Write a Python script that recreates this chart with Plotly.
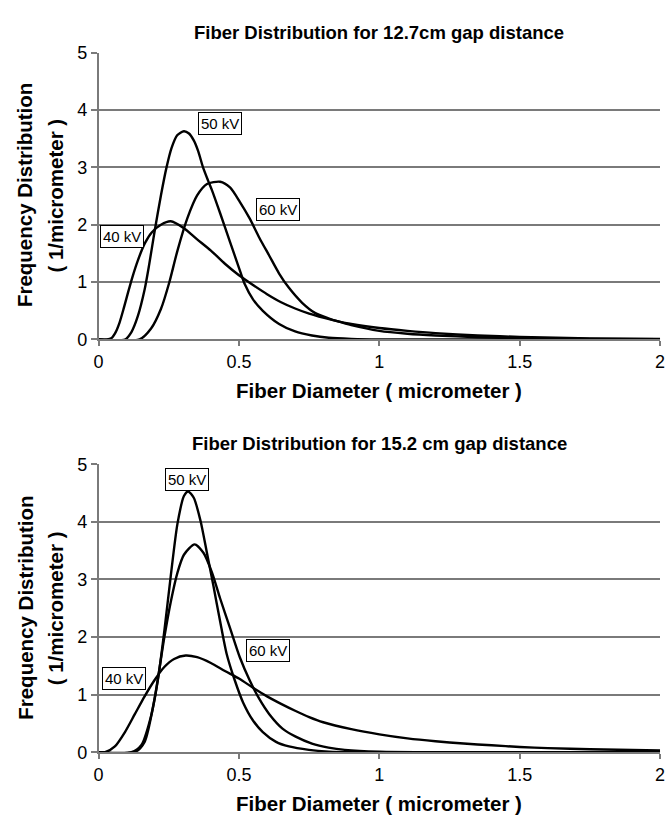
import plotly.graph_objects as go

# ---------- data: top panel (12.7 cm gap) ----------
top_40_x = [0.0, 0.03, 0.045, 0.06, 0.075, 0.09, 0.105, 0.12, 0.14, 0.165, 0.19, 0.222, 0.257, 0.304, 0.35, 0.4, 0.45, 0.5, 0.55, 0.6, 0.65, 0.7, 0.75, 0.8, 0.85, 0.9, 1.0, 1.1, 1.2, 1.35, 1.5, 1.75, 2.0]
top_40_y = [0.0, 0.0, 0.02, 0.12, 0.3, 0.55, 0.82, 1.08, 1.38, 1.68, 1.87, 2.0, 2.06, 1.94, 1.75, 1.55, 1.32, 1.12, 0.95, 0.79, 0.65, 0.54, 0.45, 0.38, 0.32, 0.27, 0.2, 0.15, 0.11, 0.07, 0.045, 0.02, 0.01]

top_50_x = [0.0, 0.094, 0.117, 0.14, 0.164, 0.18, 0.2, 0.222, 0.242, 0.26, 0.28, 0.304, 0.322, 0.339, 0.355, 0.372, 0.39, 0.404, 0.433, 0.468, 0.5, 0.52, 0.55, 0.585, 0.643, 0.7, 0.76, 0.82, 0.9, 1.0, 2.0]
top_50_y = [0.0, 0.0, 0.13, 0.41, 0.87, 1.3, 1.9, 2.51, 3.0, 3.34, 3.56, 3.63, 3.59, 3.47, 3.28, 3.0, 2.77, 2.6, 2.2, 1.7, 1.25, 0.97, 0.7, 0.5, 0.27, 0.14, 0.07, 0.03, 0.01, 0.0, 0.0]

top_60_x = [0.0, 0.146, 0.187, 0.222, 0.251, 0.281, 0.316, 0.351, 0.386, 0.433, 0.468, 0.503, 0.538, 0.573, 0.608, 0.643, 0.678, 0.725, 0.772, 0.819, 0.85, 0.9, 1.0, 1.1, 1.2, 1.35, 1.5, 1.75, 2.0]
top_60_y = [0.0, 0.0, 0.19, 0.53, 0.98, 1.55, 2.11, 2.51, 2.71, 2.75, 2.65, 2.4, 2.11, 1.77, 1.46, 1.15, 0.9, 0.64, 0.46, 0.37, 0.32, 0.25, 0.15, 0.1, 0.07, 0.04, 0.025, 0.01, 0.005]

# ---------- data: bottom panel (15.2 cm gap) ----------
bot_40_x = [0.0, 0.023, 0.058, 0.094, 0.129, 0.164, 0.199, 0.234, 0.269, 0.31, 0.351, 0.4, 0.45, 0.5, 0.55, 0.6, 0.65, 0.7, 0.75, 0.8, 0.9, 1.0, 1.1, 1.2, 1.3, 1.4, 1.5, 1.6, 1.75, 2.0]
bot_40_y = [0.0, 0.0, 0.1, 0.35, 0.66, 0.97, 1.25, 1.48, 1.62, 1.68, 1.65, 1.55, 1.41, 1.28, 1.12, 0.97, 0.84, 0.72, 0.61, 0.52, 0.4, 0.31, 0.24, 0.19, 0.15, 0.12, 0.09, 0.07, 0.05, 0.03]

bot_50_x = [0.0, 0.117, 0.152, 0.187, 0.211, 0.234, 0.257, 0.281, 0.304, 0.319, 0.339, 0.363, 0.386, 0.409, 0.433, 0.456, 0.485, 0.515, 0.55, 0.585, 0.632, 0.678, 0.749, 0.82, 0.9, 2.0]
bot_50_y = [0.0, 0.0, 0.12, 0.63, 1.25, 2.1, 3.06, 3.97, 4.45, 4.53, 4.42, 4.02, 3.46, 2.89, 2.27, 1.71, 1.25, 0.86, 0.55, 0.35, 0.18, 0.1, 0.04, 0.01, 0.0, 0.0]

bot_60_x = [0.0, 0.129, 0.164, 0.199, 0.234, 0.257, 0.281, 0.304, 0.342, 0.374, 0.404, 0.433, 0.468, 0.503, 0.538, 0.573, 0.608, 0.655, 0.702, 0.76, 0.819, 0.877, 1.0, 2.0]
bot_60_y = [0.0, 0.0, 0.18, 0.92, 1.99, 2.61, 3.12, 3.43, 3.61, 3.46, 3.12, 2.67, 2.16, 1.65, 1.25, 0.92, 0.66, 0.41, 0.27, 0.15, 0.08, 0.04, 0.01, 0.0]

# ---------- labels ----------
label_text = ["40 kV", "50 kV", "60 kV"]
top_label_x = [0.083, 0.434, 0.64]
top_label_y = [1.8, 3.76, 2.26]
bot_label_x = [0.091, 0.314, 0.605]
bot_label_y = [1.28, 4.73, 1.76]

titles = ["Fiber Distribution for 12.7cm gap distance", "Fiber Distribution for 15.2 cm gap distance"]
x_title = "Fiber Diameter ( micrometer )"
y_title_1 = "Frequency Distribution"
y_title_2 = "( 1/micrometer )"
x_ticks = [0, 0.5, 1, 1.5, 2]
x_tick_text = ["0", "0.5", "1", "1.5", "2"]
y_ticks = [0, 1, 2, 3, 4, 5]

FONT = "Liberation Sans, Arial, sans-serif"
W, H = 672, 822
GRID = "#7a7a7a"

fig = go.Figure()
line = dict(color="black", width=2.4, shape="spline", smoothing=0.7)
for xs, ys in [(top_40_x, top_40_y), (top_50_x, top_50_y), (top_60_x, top_60_y)]:
    fig.add_trace(go.Scatter(x=xs, y=ys, mode="lines", line=line, xaxis="x", yaxis="y", showlegend=False))
for xs, ys in [(bot_40_x, bot_40_y), (bot_50_x, bot_50_y), (bot_60_x, bot_60_y)]:
    fig.add_trace(go.Scatter(x=xs, y=ys, mode="lines", line=line, xaxis="x2", yaxis="y2", showlegend=False))

x_dom = [95 / W, 665 / W]
top_dom = [1 - 337.7 / H, 1 - 43.7 / H]
bot_dom = [1 - 760.7 / H, 1 - 465.7 / H]

xa = dict(range=[0, 2], tickvals=x_ticks, ticktext=x_tick_text, showgrid=False, zeroline=False,
          showline=True, linecolor=GRID, linewidth=1.5, ticks="outside", ticklen=5, tickcolor=GRID,
          tickwidth=1.5, tickfont=dict(family=FONT, size=18, color="black"), domain=x_dom, fixedrange=True)
ya = dict(range=[0, 5], tickvals=y_ticks, showgrid=True, gridcolor=GRID, gridwidth=1.5, zeroline=False,
          showline=True, linecolor=GRID, linewidth=1.5, ticks="outside", ticklen=6, tickcolor=GRID,
          tickwidth=1.5, tickfont=dict(family=FONT, size=18, color="black"), fixedrange=True)

fig.update_layout(
    width=W, height=H, margin=dict(l=0, r=0, t=0, b=0),
    paper_bgcolor="white", plot_bgcolor="white",
    xaxis=dict(xa, anchor="y"),
    yaxis=dict(ya, domain=top_dom, anchor="x"),
    xaxis2=dict(xa, anchor="y2"),
    yaxis2=dict(ya, domain=bot_dom, anchor="x2"),
)

ann = []
cx = (95 + 665) / 2 / W
for title, ty, xt_y, ymid in [(titles[0], 23, 390, 190), (titles[1], 444, 813, 613)]:
    ann.append(dict(text="<b>%s</b>" % title, x=cx, y=1 - ty / H, xref="paper", yref="paper",
                    showarrow=False, font=dict(family=FONT, size=18.5, color="black"), xanchor="center", yanchor="middle"))
    ann.append(dict(text="<b>%s</b>" % x_title, x=cx, y=1 - xt_y / H, xref="paper", yref="paper",
                    showarrow=False, font=dict(family=FONT, size=20.5, color="black"), xanchor="center", yanchor="middle"))
    ann.append(dict(text="<b>%s</b>" % y_title_1, x=20 / W, y=1 - ymid / H, xref="paper", yref="paper",
                    showarrow=False, textangle=-90, font=dict(family=FONT, size=20.5, color="black"), xanchor="center", yanchor="middle"))
    ann.append(dict(text="<b>%s</b>" % y_title_2, x=51 / W, y=1 - ymid / H, xref="paper", yref="paper",
                    showarrow=False, textangle=-90, font=dict(family=FONT, size=20.5, color="black"), xanchor="center", yanchor="middle"))

for (lx, ly, xr, yr) in [(top_label_x, top_label_y, "x", "y"), (bot_label_x, bot_label_y, "x2", "y2")]:
    for t, px, py in zip(label_text, lx, ly):
        ann.append(dict(text=t, x=px, y=py, xref=xr, yref=yr, showarrow=False,
                        font=dict(family=FONT, size=15, color="black"), bgcolor="white",
                        bordercolor="black", borderwidth=1, borderpad=2, xanchor="center", yanchor="middle"))

fig.update_layout(annotations=ann)
fig.write_html("out.html", config={"displayModeBar": False},
               post_script="document.body.style.margin='0';document.body.style.overflow='hidden';")
